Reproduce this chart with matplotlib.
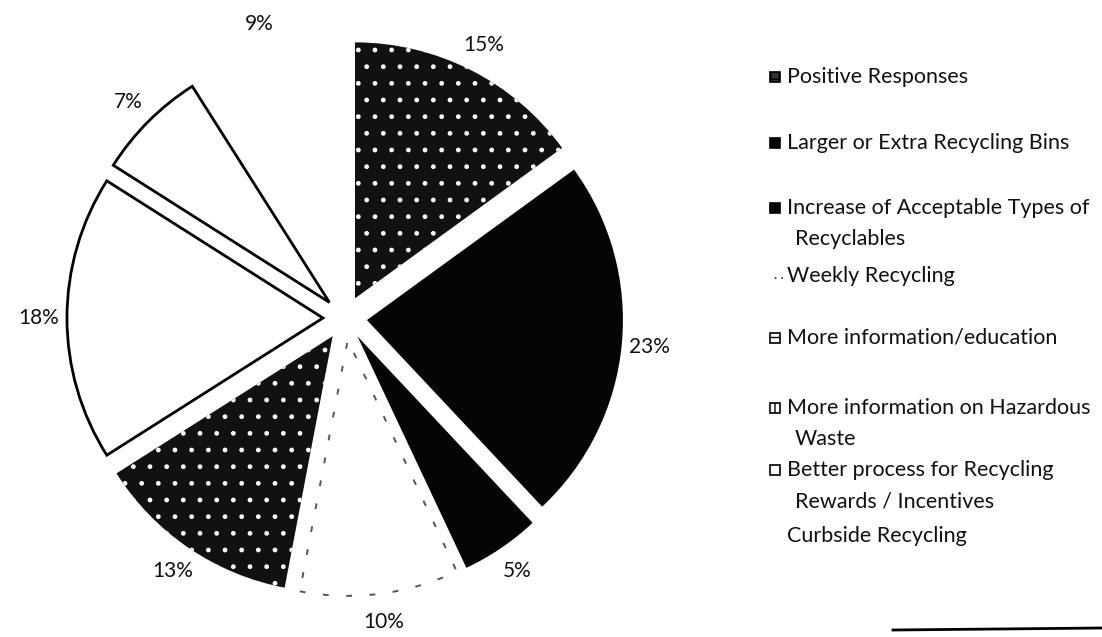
import matplotlib.pyplot as plt
from matplotlib.patches import Rectangle

plt.rcParams['font.family'] = ['Lato', 'DejaVu Sans']

# survey answers, clockwise from 12 o'clock
categories = ['Positive Responses', 'Larger or Extra Recycling Bins',
              'Increase of Acceptable Types of\nRecyclables', 'Weekly Recycling',
              'More information/education', 'More information on Hazardous\nWaste',
              'Better process for Recycling\nRewards / Incentives', 'Curbside Recycling']
shares = [15, 23, 5, 10, 13, 18, 7, 9]

# scanned look of each slice
faces = ['#111111', '#050505', '#050505', 'white', '#111111', 'white', 'white', 'white']
edges = ['white', '#050505', '#050505', '#555555', 'white', 'black', 'black', 'white']
hatches = ['.', None, None, None, '.', None, None, None]
widths = [0, 0, 0, 1.4, 0, 2.0, 2.0, 0]
styles = ['solid', 'solid', 'solid', (0, (3, 9)), 'solid', 'solid', 'solid', 'solid']

W, H = 1102, 637
cx, cy, r = 345, 318, 256   # pie centre and radius in pixels

fig = plt.figure(figsize=(W / 100, H / 100), dpi=100)
ax = fig.add_axes([0, 0, 1, 1])
wedges, _, pcts = ax.pie(shares, startangle=90, counterclock=False,
                         explode=[0.086] * len(shares),
                         autopct=lambda p: f'{p:.0f}%', pctdistance=1.11,
                         textprops=dict(fontsize=15, color='#111111'))
for w, fc, ec, h, lw, ls in zip(wedges, faces, edges, hatches, widths, styles):
    w.set_facecolor(fc)
    w.set_edgecolor(ec)
    w.set_linewidth(lw)
    w.set_linestyle(ls)
    if h:
        w.set_hatch(h)
ax.set_aspect('auto')
ax.set_xlim(-cx / r, (W - cx) / r)
ax.set_ylim(-(H - cy) / r, cy / r)
ax.axis('off')

# legend, drawn by hand like the scanned one (y = centre of first line, px)
leg_y = [77, 143, 208, 276, 338, 408, 470, 536]
line_gap = 31
marker_face = ['#333333', '#050505', '#050505', None, 'white', 'white', 'white', None]
marker_hatch = ['++', None, None, None, '--', '|', None, None]
for i, (lab, y) in enumerate(zip(categories, leg_y)):
    for j, line in enumerate(lab.split('\n')):
        x = 787 if j == 0 else 795
        fig.text(x / W, 1 - (y + j * line_gap) / H, line, ha='left', va='center',
                 fontsize=15.5, color='#111111')
    if marker_face[i] is None:
        continue
    sq = Rectangle((770 / W, 1 - (y + 5) / H), 10 / W, 10 / H, transform=fig.transFigure,
                   facecolor=marker_face[i], edgecolor='black', linewidth=1.2,
                   hatch=marker_hatch[i])
    fig.add_artist(sq)
fig.text(774 / W, 1 - 278 / H, '· ·', ha='left', va='center', fontsize=9, color='#333333')

# the cut-off rule at the bottom of the scan
fig.add_artist(plt.Line2D([893 / W, 1.0], [1 - 630 / H, 1 - 628 / H], color='black', linewidth=2))

fig.savefig('out.png', dpi=100)
